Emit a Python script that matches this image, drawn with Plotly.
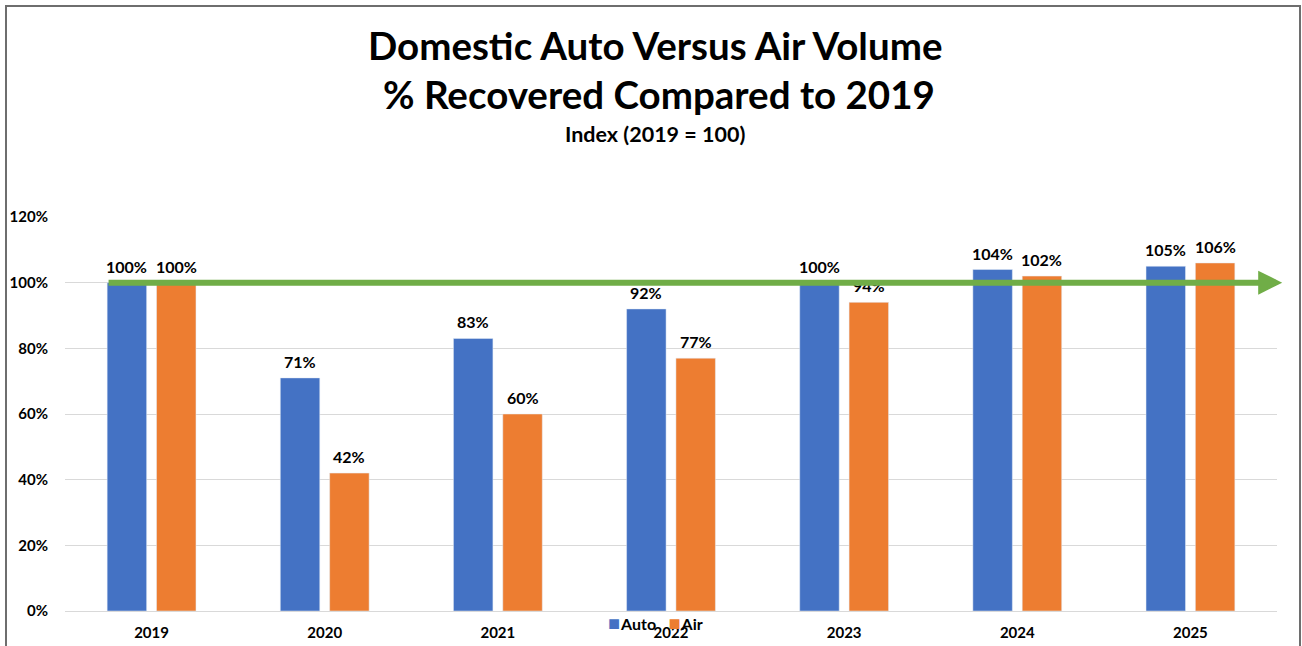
import plotly.graph_objects as go

# ---- data ----
years = ["2019", "2020", "2021", "2022", "2023", "2024", "2025"]
auto_pct = [100, 71, 83, 92, 100, 104, 105]
air_pct = [100, 42, 60, 77, 94, 102, 106]
baseline = 100
y_ticks = [0, 20, 40, 60, 80, 100, 120]
y_tick_labels = ["0%", "20%", "40%", "60%", "80%", "100%", "120%"]

# ---- style ----
FONT = "Lato, 'Open Sans', Arial, sans-serif"
BLUE = "#4472C4"
ORANGE = "#ED7D31"
GREEN = "#70AD47"
GRID = "#D9D9D9"
W, H = 1302, 646
M_L, M_R, M_T, M_B = 65, 25, 217, 35
BARGAP = 0.43
BARGROUPGAP = 0.2

fig = go.Figure()
fig.add_trace(go.Bar(name="Auto", x=years, y=auto_pct, marker_color=BLUE,
                     showlegend=False))
fig.add_trace(go.Bar(name="Air", x=years, y=air_pct, marker_color=ORANGE,
                     showlegend=False))

plot_h = H - M_T - M_B


def py(px):
    """Convert a pixel row of the page into paper y."""
    return (H - M_B - px) / plot_h


def px_x(px):
    """Convert a pixel column of the page into paper x."""
    return (px - M_L) / (W - M_L - M_R)


# value labels above each bar, offset to the bar centres within a group
slot = (1 - BARGAP) / 2
annotations = []
for series, shift in ((auto_pct, -slot / 2), (air_pct, slot / 2)):
    for i, v in enumerate(series):
        annotations.append(dict(
            x=i + shift, y=v, xref="x", yref="y", text=f"<b>{v}%</b>",
            showarrow=False, yanchor="bottom", yshift=5,
            font=dict(family=FONT, size=16, color="#000000"),
        ))

# titles
annotations += [
    dict(x=px_x(655), y=py(45), xref="paper", yref="paper",
         text="<b>Domestic Auto Versus Air Volume</b>", showarrow=False,
         yanchor="middle", font=dict(family=FONT, size=38.5, color="#000000")),
    dict(x=px_x(659), y=py(94), xref="paper", yref="paper",
         text="<b>% Recovered Compared to 2019</b>", showarrow=False,
         yanchor="middle", font=dict(family=FONT, size=38.5, color="#000000")),
    dict(x=px_x(655), y=py(134), xref="paper", yref="paper",
         text="<b>Index (2019 = 100)</b>", showarrow=False,
         yanchor="middle", font=dict(family=FONT, size=21.5, color="#000000")),
]

# compact series key under the plot, built from the trace names and colours
key_text = "\u00a0\u00a0\u00a0".join(
    f"<span style='color:{t.marker.color};font-size:20px'>■</span>"
    f"\u200a<b>{t.name}</b>"
    for t in fig.data
)
annotations.append(dict(
    x=px_x(655), y=py(622), xref="paper", yref="paper", text=key_text,
    showarrow=False, xanchor="center", yanchor="middle",
    font=dict(family=FONT, size=16, color="#000000"),
))

# green reference arrow along the 2019 baseline
annotations.append(dict(
    x=6.53, y=baseline, xref="x", yref="y",
    ax=-0.257, ay=baseline, axref="x", ayref="y",
    text="", showarrow=True, arrowhead=2, arrowsize=0.8,
    arrowwidth=6, arrowcolor=GREEN,
))

fig.update_layout(
    width=W, height=H,
    margin=dict(l=M_L, r=M_R, t=M_T, b=M_B, autoexpand=False),
    paper_bgcolor="white", plot_bgcolor="white",
    barmode="group", bargap=BARGAP, bargroupgap=BARGROUPGAP,
    font=dict(family=FONT, size=15, color="#000000"),
    annotations=annotations,
    shapes=[dict(
        type="rect", xref="paper", yref="paper",
        x0=px_x(6), x1=px_x(1300), y0=py(660), y1=py(6),
        line=dict(color="#6E6E6E", width=2), fillcolor="rgba(0,0,0,0)",
        layer="above",
    )],
)

fig.update_xaxes(
    range=[-0.5, len(years) - 0.5], autorange=False, automargin=False,
    showgrid=False, showline=True, linecolor=GRID, linewidth=1,
    ticks="", ticklabelstandoff=8,
    tickfont=dict(family=FONT, size=15, color="#000000", weight="bold"),
)
fig.update_yaxes(
    range=[0, 120], autorange=False, automargin=False,
    tickvals=y_ticks, ticktext=y_tick_labels,
    showgrid=True, gridcolor=GRID, gridwidth=1, zeroline=False,
    showline=False, ticks="", ticklabelstandoff=16,
    tickfont=dict(family=FONT, size=15, color="#000000", weight="bold"),
)

fig.write_html("out.html")
